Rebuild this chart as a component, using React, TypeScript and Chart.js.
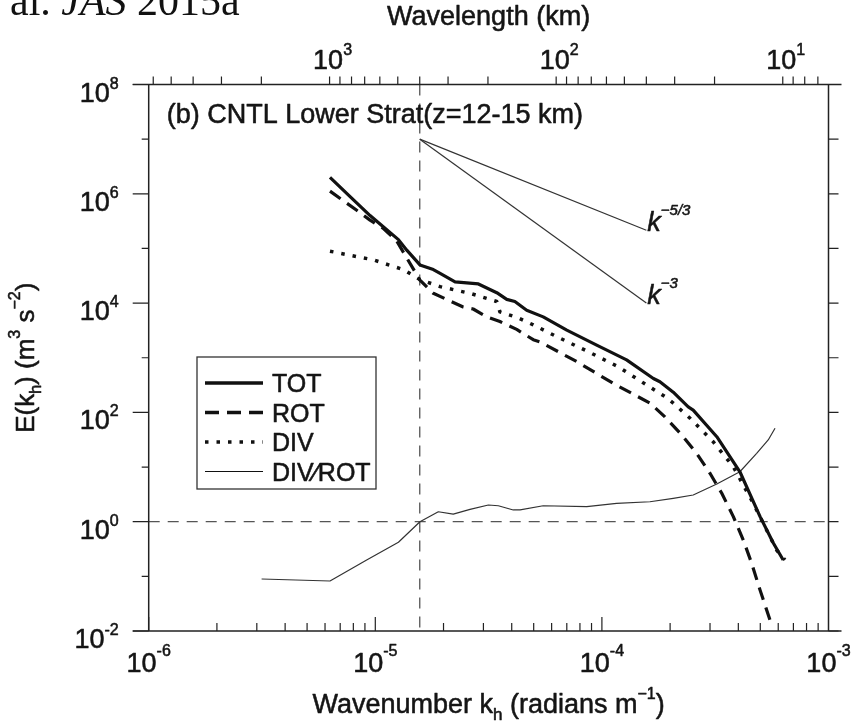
import React, { useEffect, useRef } from "react";
import { Chart, registerables } from "chart.js";
Chart.register(...registerables);

const FONT = '"Liberation Sans", Arial, Helvetica, sans-serif';
const SERIF = '"Liberation Serif", "Times New Roman", serif';

// Horizontal wavenumber k_h (radians m^-1) and spectral energy E (m^3 s^-2)
const totK = [6.31e-6, 7.74e-6, 9.48e-6, 1.084e-5, 1.265e-5, 1.377e-5, 1.574e-5, 1.803e-5, 1.932e-5, 2.249e-5, 2.851e-5, 3.436e-5, 3.802e-5, 4.13e-5, 4.656e-5, 5.508e-5, 6.998e-5, 9.484e-5, 1.285e-4, 1.687e-4, 1.803e-4, 2.065e-4, 2.404e-4, 2.529e-4, 3.214e-4, 4.064e-4, 4.989e-4, 5.715e-4, 6.31e-4];
const totE = [2.0e6, 8.9e5, 4.0e5, 2.5e5, 1.45e5, 9.3e4, 5.0e4, 4.1e4, 3.5e4, 2.45e4, 2.24e4, 1.55e4, 1.17e4, 1.07e4, 7.4e3, 5.6e3, 3.2e3, 1.7e3, 912, 417, 363, 234, 126, 110, 35.9, 8.2, 1.24, 0.403, 0.199];

const rotK = [6.31e-6, 8.28e-6, 9.48e-6, 1.084e-5, 1.242e-5, 1.574e-5, 1.803e-5, 2.443e-5, 2.704e-5, 3.105e-5, 3.548e-5, 4.207e-5, 4.977e-5, 5.333e-5, 7.745e-5, 1.122e-4, 1.629e-4, 1.897e-4, 2.249e-4, 2.618e-4, 2.999e-4, 3.381e-4, 3.802e-4, 4.207e-4, 4.581e-4, 4.989e-4, 5.61e-4];
const rotE = [1.12e6, 5.0e5, 3.3e5, 2.34e5, 1.38e5, 2.63e4, 1.51e4, 8.5e3, 7.8e3, 5.6e3, 4.6e3, 3.3e3, 2.14e3, 1.95e3, 851, 339, 148, 83, 38.9, 17.8, 7.7, 3.31, 1.24, 0.462, 0.173, 0.056, 0.0129];

const divK = [6.31e-6, 8.28e-6, 9.79e-6, 1.084e-5, 1.33e-5, 1.574e-5, 1.932e-5, 2.618e-5, 3.436e-5, 3.548e-5, 4.207e-5, 4.977e-5, 6.324e-5, 8.71e-5, 1.18e-4, 1.578e-4, 1.897e-4, 2.065e-4, 2.449e-4, 3.097e-4, 3.802e-4, 4.656e-4, 5.902e-4, 6.427e-4];
const divE = [8.9e4, 7.1e4, 6.2e4, 5.4e4, 4.1e4, 2.7e4, 2.0e4, 1.51e4, 1.07e4, 6.9e3, 5.5e3, 4.0e3, 2.43e3, 1.29e3, 685, 316, 195, 148, 78, 29.1, 10.1, 2.17, 0.303, 0.2];

const ratioK = [3.15e-6, 6.31e-6, 9.16e-6, 1.265e-5, 1.574e-5, 1.897e-5, 2.208e-5, 2.618e-5, 3.155e-5, 3.491e-5, 4.064e-5, 4.355e-5, 5.508e-5, 8.57e-5, 1.161e-4, 1.629e-4, 2.065e-4, 2.529e-4, 3.214e-4, 4.064e-4, 4.819e-4, 5.42e-4, 5.808e-4];
const ratioE = [0.0895, 0.0822, 0.2, 0.42, 1.0, 1.52, 1.38, 1.68, 2.02, 1.96, 1.64, 1.64, 1.96, 1.88, 2.17, 2.32, 2.68, 3.08, 4.9, 8.2, 17.8, 31.3, 51.2];

// Reference slopes
const refK = [1.571e-5, 1.571e-4];
const ref53E = [1e7, 2.154e5];
const ref3E = [1e7, 1e4];

// Axes
const xExps = [-6, -5, -4, -3];
const yExps = [-2, -1, 0, 1, 2, 3, 4, 5, 6, 7, 8];
const yLabelExps = [-2, 0, 2, 4, 6, 8];
const topMajorKm = [1000, 100, 10];
const topMinorKm = [6000, 5000, 4000, 3000, 2000, 900, 800, 700, 600, 500, 400, 300, 200, 90, 80, 70, 60, 50, 40, 30, 20, 9, 8, 7];
const guideK = 1.571e-5; // 400 km
const guideE = 1;

const legendLabels = ["TOT", "ROT", "DIV", "DIV\u2215ROT"];

type Run = { t: string; s: number; dy?: number; it?: boolean; f?: string };

function drawRuns(ctx: CanvasRenderingContext2D, runs: Run[], x: number, y: number, align: "left" | "center" | "right", heavy = 0.55) {
  const widths = runs.map((r) => {
    ctx.font = `${r.it ? "italic " : ""}${r.s}px ${r.f || FONT}`;
    return ctx.measureText(r.t).width;
  });
  const total = widths.reduce((a, b) => a + b, 0);
  let cur = align === "center" ? x - total / 2 : align === "right" ? x - total : x;
  ctx.textAlign = "left";
  ctx.textBaseline = "alphabetic";
  runs.forEach((r, i) => {
    ctx.font = `${r.it ? "italic " : ""}${r.s}px ${r.f || FONT}`;
    ctx.fillText(r.t, cur, y + (r.dy || 0));
    if (heavy > 0) {
      ctx.save();
      ctx.setLineDash([]);
      ctx.lineWidth = heavy;
      ctx.strokeStyle = ctx.fillStyle as string;
      ctx.lineJoin = "round";
      ctx.strokeText(r.t, cur, y + (r.dy || 0));
      ctx.restore();
    }
    cur += widths[i];
  });
}

const decor = {
  id: "decor",
  beforeDatasetsDraw(chart: any) {
    const { ctx, chartArea, scales } = chart;
    const { left: L, right: R, top: T, bottom: B } = chartArea;
    const gx = scales.x.getPixelForValue(guideK);
    const gy = scales.y.getPixelForValue(guideE);
    ctx.save();
    ctx.strokeStyle = "#555";
    ctx.lineWidth = 1.3;
    ctx.setLineDash([11, 8]);
    ctx.beginPath();
    ctx.moveTo(gx, T);
    ctx.lineTo(gx, B);
    ctx.moveTo(L, gy);
    ctx.lineTo(R, gy);
    ctx.stroke();
    ctx.restore();
  },
  afterDatasetsDraw(chart: any) {
    const { ctx, chartArea, scales } = chart;
    const { left: L, right: R, top: T, bottom: B } = chartArea;
    const xs = scales.x;
    const ys = scales.y;
    ctx.save();
    ctx.setLineDash([]);
    ctx.strokeStyle = "#222";
    ctx.fillStyle = "#151515";
    ctx.lineWidth = 1.5;
    // frame
    ctx.beginPath();
    ctx.moveTo(L - 16, T); ctx.lineTo(R + 13, T);
    ctx.moveTo(L - 16, B); ctx.lineTo(R + 13, B);
    ctx.moveTo(L, T); ctx.lineTo(L, B);
    ctx.moveTo(R, T); ctx.lineTo(R, B);
    ctx.stroke();
    ctx.lineWidth = 1.2;
    ctx.beginPath();
    // bottom ticks
    for (let d = -6; d < -3; d++) {
      for (let m = 1; m <= 9; m++) {
        const v = m * Math.pow(10, d);
        const px = xs.getPixelForValue(v);
        const len = m === 1 ? 14 : 8;
        ctx.moveTo(px, B); ctx.lineTo(px, B - len);
      }
    }
    // top ticks (wavelength)
    [...topMajorKm, ...topMinorKm].forEach((km) => {
      const px = xs.getPixelForValue((2 * Math.PI) / (km * 1000));
      ctx.moveTo(px, T); ctx.lineTo(px, T - 8);
    });
    // left/right ticks
    yExps.forEach((e) => {
      const py = ys.getPixelForValue(Math.pow(10, e));
      const len = e % 2 === 0 ? 16 : 7;
      ctx.moveTo(L, py); ctx.lineTo(L - len, py);
      ctx.moveTo(R, py); ctx.lineTo(R + 10, py);
    });
    ctx.stroke();

    // bottom labels
    xExps.forEach((e) => {
      const px = xs.getPixelForValue(Math.pow(10, e));
      drawRuns(ctx, [{ t: "10", s: 27 }, { t: String(e), s: 16, dy: -16 }], px, B + 41, "center");
    });
    // left labels
    yLabelExps.forEach((e) => {
      const py = ys.getPixelForValue(Math.pow(10, e));
      drawRuns(ctx, [{ t: "10", s: 27 }, { t: String(e), s: 16, dy: -13 }], L - 30, py + 17, "right");
    });
    // top labels
    topMajorKm.forEach((km) => {
      const px = xs.getPixelForValue((2 * Math.PI) / (km * 1000));
      const e = Math.round(Math.log10(km));
      drawRuns(ctx, [{ t: "10", s: 27 }, { t: String(e), s: 16, dy: -14 }], px + 3, T - 16, "center");
    });
    // axis titles
    drawRuns(ctx, [{ t: "Wavelength (km)", s: 27 }], (L + R) / 2, 25, "center");
    drawRuns(
      ctx,
      [
        { t: "Wavenumber k", s: 27 },
        { t: "h", s: 17, dy: 7 },
        { t: " (radians m", s: 27 },
        { t: "\u22121", s: 16, dy: -14 },
        { t: ")", s: 27 },
      ],
      (L + R) / 2,
      713,
      "center"
    );
    ctx.save();
    ctx.translate(34, (T + B) / 2);
    ctx.rotate(-Math.PI / 2);
    drawRuns(
      ctx,
      [
        { t: "E(k", s: 26 },
        { t: "h", s: 16, dy: 7 },
        { t: ") (m", s: 26 },
        { t: "3", s: 16, dy: -14 },
        { t: " s", s: 26 },
        { t: "\u22122", s: 16, dy: -14 },
        { t: ")", s: 26 },
      ],
      0,
      0,
      "center"
    );
    ctx.restore();

    // panel title
    drawRuns(ctx, [{ t: "(b) CNTL Lower Strat(z=12-15 km)", s: 27 }], L + 18, 123, "left");

    // slope labels
    const ex = xs.getPixelForValue(refK[1]);
    const y53 = ys.getPixelForValue(ref53E[1]);
    const y3 = ys.getPixelForValue(ref3E[1]);
    drawRuns(ctx, [{ t: "k", s: 27, it: true }, { t: "\u22125/3", s: 15, it: true, dy: -16 }], ex + 1, y53 + 1, "left");
    drawRuns(ctx, [{ t: "k", s: 27, it: true }, { t: "\u22123", s: 15, it: true, dy: -16 }], ex + 1, y3 + 1, "left");

    // legend
    const bx = 197, by = 357, bw = 179, bh = 132;
    ctx.fillStyle = "#fff";
    ctx.fillRect(bx, by, bw, bh);
    ctx.strokeStyle = "#333";
    ctx.lineWidth = 1.3;
    ctx.strokeRect(bx, by, bw, bh);
    const rows = [383, 412.5, 442, 471.5];
    const styles = [
      { w: 3.5, d: [] as number[] },
      { w: 3.5, d: [14, 8] },
      { w: 3.5, d: [3.5, 8] },
      { w: 1.2, d: [] as number[] },
    ];
    rows.forEach((ry, i) => {
      ctx.strokeStyle = "#111";
      ctx.lineWidth = styles[i].w;
      ctx.setLineDash(styles[i].d);
      ctx.beginPath();
      ctx.moveTo(205, ry);
      ctx.lineTo(263, ry);
      ctx.stroke();
      ctx.setLineDash([]);
      ctx.fillStyle = "#151515";
      drawRuns(ctx, [{ t: legendLabels[i], s: 25 }], 272, ry + 9, "left");
    });

    // source note
    ctx.fillStyle = "#111";
    drawRuns(
      ctx,
      [
        { t: "al. ", s: 42, f: SERIF },
        { t: "JAS", s: 42, f: SERIF, it: true },
        { t: " 2015a", s: 42, f: SERIF },
      ],
      10,
      15,
      "left",
      0
    );
    ctx.restore();
  },
};

function pts(k: number[], e: number[]) {
  return k.map((x, i) => ({ x, y: e[i] }));
}

export default function App() {
  const ref = useRef<HTMLCanvasElement | null>(null);
  useEffect(() => {
    if (!ref.current) return;
    const chart = new Chart(ref.current, {
      type: "line",
      data: {
        datasets: [
          { label: "TOT", data: pts(totK, totE), borderColor: "#111", borderWidth: 3.2, pointRadius: 0 },
          { label: "ROT", data: pts(rotK, rotE), borderColor: "#111", borderWidth: 3.2, borderDash: [13, 8], pointRadius: 0 },
          { label: "DIV", data: pts(divK, divE), borderColor: "#111", borderWidth: 3.5, borderDash: [3.5, 8], pointRadius: 0 },
          { label: "DIV/ROT", data: pts(ratioK, ratioE), borderColor: "#333", borderWidth: 1.2, pointRadius: 0 },
          { label: "k-5/3", data: pts(refK, ref53E), borderColor: "#333", borderWidth: 1.2, pointRadius: 0 },
          { label: "k-3", data: pts(refK, ref3E), borderColor: "#333", borderWidth: 1.2, pointRadius: 0 },
        ],
      },
      options: {
        animation: false,
        responsive: false,
        devicePixelRatio: 1,
        parsing: true,
        layout: { padding: { left: 148.7, right: 24.5, top: 84.5, bottom: 94 } },
        scales: {
          x: { type: "logarithmic", min: 1e-6, max: 1e-3, display: false },
          y: { type: "logarithmic", min: 1e-2, max: 1e8, display: false },
        },
        plugins: { legend: { display: false }, tooltip: { enabled: false }, title: { display: false } },
        elements: { line: { tension: 0, borderCapStyle: "butt", borderJoinStyle: "round" } },
      },
      plugins: [decor],
    });
    return () => chart.destroy();
  }, []);
  return (
    <div style={{ position: "absolute", left: 0, top: 0, width: 853, height: 725, background: "#fff" }}>
      <canvas ref={ref} width={853} height={725} style={{ display: "block", width: 853, height: 725 }} />
    </div>
  );
}
